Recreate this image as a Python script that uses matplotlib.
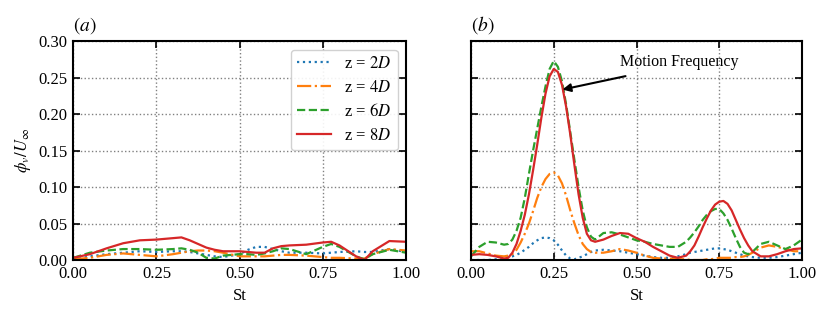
import numpy as np
import matplotlib
matplotlib.use("Agg")
import matplotlib.pyplot as plt

plt.rcParams['font.family'] = ['Liberation Serif', 'DejaVu Serif']
plt.rcParams['mathtext.fontset'] = 'stix'
plt.rcParams['font.size'] = 12

# ---------------- data ----------------
st_a = [0.0, 0.05, 0.1, 0.15, 0.2, 0.25, 0.3, 0.325, 0.35, 0.375, 0.4, 0.425, 0.45, 0.5,
        0.525, 0.55, 0.575, 0.6, 0.625, 0.65, 0.7, 0.75, 0.775, 0.8, 0.85, 0.875, 0.9, 0.95, 1.0]
a_z2 = [0.000, 0.005, 0.008, 0.010, 0.012, 0.011, 0.012, 0.012, 0.011, 0.009, 0.007, 0.005, 0.004, 0.008,
        0.014, 0.018, 0.018, 0.015, 0.012, 0.010, 0.010, 0.009, 0.010, 0.011, 0.012, 0.011, 0.011, 0.015, 0.011]
a_z4 = [0.001, 0.003, 0.007, 0.009, 0.007, 0.005, 0.008, 0.010, 0.012, 0.013, 0.013, 0.012, 0.010, 0.005,
        0.005, 0.005, 0.005, 0.006, 0.007, 0.007, 0.006, 0.004, 0.003, 0.003, 0.002, 0.002, 0.008, 0.015, 0.013]
a_z6 = [0.003, 0.010, 0.013, 0.015, 0.015, 0.014, 0.015, 0.016, 0.014, 0.010, 0.003, 0.002, 0.006, 0.008,
        0.008, 0.007, 0.009, 0.012, 0.016, 0.015, 0.008, 0.018, 0.022, 0.018, 0.005, 0.001, 0.008, 0.014, 0.010]
a_z8 = [0.003, 0.008, 0.016, 0.023, 0.027, 0.028, 0.030, 0.031, 0.027, 0.022, 0.017, 0.014, 0.012, 0.012,
        0.011, 0.010, 0.010, 0.016, 0.019, 0.020, 0.021, 0.024, 0.025, 0.020, 0.005, 0.000, 0.012, 0.026, 0.025]

st_b = [0.0, 0.025, 0.05, 0.075, 0.1, 0.1125,
        0.125, 0.1375, 0.15, 0.1625, 0.175, 0.1875, 0.2, 0.2125, 0.225, 0.2375, 0.25,
        0.2625, 0.275, 0.2875, 0.3, 0.3125, 0.325, 0.3375, 0.35, 0.3625, 0.375,
        0.4, 0.425, 0.45, 0.475, 0.5, 0.525, 0.55, 0.575, 0.6, 0.625,
        0.65, 0.6625, 0.675, 0.6875, 0.7, 0.7125, 0.725, 0.7375, 0.75, 0.7625, 0.775,
        0.7875, 0.8, 0.8125, 0.825, 0.8375, 0.85,
        0.875, 0.9, 0.925, 0.95, 0.975, 1.0]
b_z2 = [0.000, 0.000, 0.000, 0.001, 0.003, 0.004,
        0.005, 0.007, 0.010, 0.014, 0.018, 0.023, 0.027, 0.030, 0.031, 0.030, 0.027,
        0.021, 0.013, 0.006, 0.002, 0.001, 0.003, 0.005, 0.008, 0.011, 0.013,
        0.014, 0.013, 0.012, 0.010, 0.008, 0.006, 0.004, 0.003, 0.003, 0.005,
        0.008, 0.010, 0.011, 0.012, 0.013, 0.014, 0.015, 0.016, 0.016, 0.015, 0.014,
        0.012, 0.010, 0.008, 0.006, 0.005, 0.004,
        0.003, 0.003, 0.004, 0.006, 0.008, 0.010]
b_z4 = [0.012, 0.012, 0.009, 0.006, 0.005, 0.006,
        0.008, 0.014, 0.024, 0.036, 0.050, 0.067, 0.085, 0.100, 0.111, 0.118, 0.120,
        0.116, 0.105, 0.088, 0.068, 0.050, 0.034, 0.022, 0.015, 0.011, 0.010,
        0.010, 0.012, 0.015, 0.013, 0.010, 0.006, 0.003, 0.002, 0.002, 0.001,
        0.001, 0.000, 0.000, 0.000, 0.000, 0.001, 0.001, 0.002, 0.003, 0.003, 0.003,
        0.003, 0.004, 0.004, 0.005, 0.007, 0.010,
        0.017, 0.020, 0.018, 0.015, 0.012, 0.012]
b_z6 = [0.005, 0.018, 0.025, 0.024, 0.021, 0.022,
        0.028, 0.040, 0.058, 0.085, 0.118, 0.150, 0.180, 0.210, 0.238, 0.262, 0.273,
        0.265, 0.245, 0.213, 0.175, 0.137, 0.100, 0.068, 0.045, 0.032, 0.028,
        0.037, 0.038, 0.035, 0.031, 0.027, 0.025, 0.022, 0.020, 0.018, 0.018,
        0.025, 0.031, 0.038, 0.046, 0.055, 0.062, 0.067, 0.070, 0.070, 0.064, 0.055,
        0.043, 0.030, 0.018, 0.010, 0.008, 0.011,
        0.022, 0.025, 0.020, 0.015, 0.020, 0.028]
b_z8 = [0.007, 0.008, 0.007, 0.005, 0.002, 0.003,
        0.010, 0.022, 0.040, 0.062, 0.090, 0.123, 0.158, 0.195, 0.228, 0.252, 0.262,
        0.258, 0.240, 0.210, 0.172, 0.130, 0.090, 0.058, 0.036, 0.027, 0.025,
        0.028, 0.033, 0.037, 0.036, 0.030, 0.025, 0.018, 0.012, 0.006, 0.003,
        0.006, 0.012, 0.020, 0.032, 0.045, 0.057, 0.068, 0.076, 0.080, 0.081, 0.077,
        0.068, 0.055, 0.042, 0.030, 0.020, 0.012,
        0.005, 0.005, 0.008, 0.012, 0.015, 0.016]

labels = [r'z = $2D$', r'z = $4D$', r'z = $6D$', r'z = $8D$']
colors = ['#1f77b4', '#ff7f0e', '#2ca02c', '#d62728']
styles = [':', '-.', '--', '-']
xticks = [0.0, 0.25, 0.5, 0.75, 1.0]
yticks = [0.0, 0.05, 0.10, 0.15, 0.20, 0.25, 0.30]

fig = plt.figure(figsize=(8.31, 3.19), dpi=100)
ax1 = fig.add_axes([73.3/831, 1 - 260/319, 332.7/831, 218.7/319])
ax2 = fig.add_axes([471/831, 1 - 260/319, 331/831, 218.7/319])

for ax, st, series in [(ax1, st_a, [a_z2, a_z4, a_z6, a_z8]), (ax2, st_b, [b_z2, b_z4, b_z6, b_z8])]:
    for y, lab, c, ls in zip(series, labels, colors, styles):
        ax.plot(st, y, color=c, ls=ls, lw=1.6, label=lab)
    ax.set_xlim(0, 1)
    ax.set_ylim(0, 0.30)
    ax.set_xticks(xticks)
    ax.set_yticks(yticks)
    ax.set_xticklabels([f'{v:.2f}' for v in xticks])
    ax.grid(True, ls=':', color='gray', lw=1.0)
    ax.tick_params(direction='in', top=True, right=True, length=5, width=1.2, labelsize=12)
    ax.tick_params(axis='x', pad=4.5)
    ax.tick_params(axis='y', pad=4)
    for s in ax.spines.values():
        s.set_linewidth(1.5)
    ax.set_xlabel('St', fontsize=12, labelpad=4)

ax1.set_yticklabels([f'{v:.2f}' for v in yticks])
ax2.set_yticklabels([])
ax1.set_ylabel(r'$\phi_v/U_\infty$', fontsize=12, labelpad=4)
ax1.set_title(r'$(a)$', loc='left', fontsize=14, x=0.0, pad=8)
ax2.set_title(r'$(b)$', loc='left', fontsize=14, x=0.0, pad=8)

leg = ax1.legend(loc='upper right', fontsize=12, handlelength=2.0, handletextpad=0.8,
                 framealpha=0.9, edgecolor='#cccccc', borderpad=0.4, labelspacing=0.45,
                 borderaxespad=0.5)

ax2.annotate('', xy=(0.268, 0.233), xytext=(0.475, 0.253),
             arrowprops=dict(arrowstyle='-|>', color='black', lw=1.5, mutation_scale=12))
ax2.text(0.45, 0.272, 'Motion Frequency', fontsize=11.5, ha='left', va='center')

fig.savefig('out.png', dpi=100)
